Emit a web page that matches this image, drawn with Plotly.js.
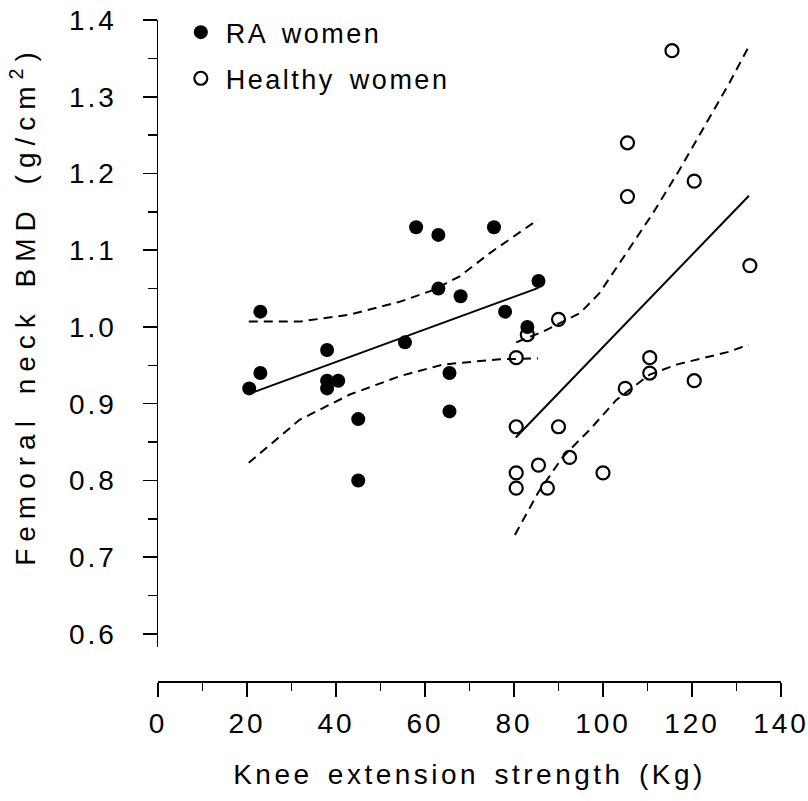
<!DOCTYPE html>
<html>
<head>
<meta charset="utf-8">
<script src="https://cdn.plot.ly/plotly-3.0.1.min.js"></script>
<style>
  html, body { margin: 0; padding: 0; background: #fff; }
  #chart { width: 808px; height: 801px; }
  .xtick text, .ytick text { letter-spacing: 3px; }
  .xtitle { letter-spacing: 3.5px; word-spacing: 4px; }
  .ytitle { letter-spacing: 7px; word-spacing: 5px; }
  #chart .ytitle { translate: 0 -28px; }
  .legendtext { letter-spacing: 2.5px; word-spacing: 5px; }
</style>
</head>
<body>
<div id="chart"></div>
<script>
// RA women (filled circles)
const raStrength = [20.5, 23, 23, 38, 38, 38, 40.5, 45, 45, 55.5, 58, 63, 63, 65.5, 65.5, 68, 75.5, 78, 83, 85.5];
const raBMD      = [0.92, 1.02, 0.94, 0.97, 0.93, 0.92, 0.93, 0.88, 0.80, 0.98, 1.13, 1.12, 1.05, 0.94, 0.89, 1.04, 1.13, 1.02, 1.00, 1.06];

// Healthy women (open circles)
const hwStrength = [80.5, 80.5, 80.5, 80.5, 83, 85.5, 87.5, 90, 90, 92.5, 100, 105.5, 105.5, 105, 110.5, 110.5, 115.5, 120.5, 120.5, 133];
const hwBMD      = [0.96, 0.87, 0.81, 0.79, 0.99, 0.82, 0.79, 1.01, 0.87, 0.83, 0.81, 1.24, 1.17, 0.92, 0.96, 0.94, 1.36, 1.19, 0.93, 1.08];

// Regression lines (end points)
const raFitX = [20.5, 85.5];
const raFitY = [0.913, 1.051];
const hwFitX = [80.4, 132.8];
const hwFitY = [0.856, 1.171];

// Confidence bands
const raUpX = [20.4, 31.8, 43.1, 54.4, 61.8, 67.8, 74.5, 85.4];
const raUpY = [1.007, 1.007, 1.016, 1.033, 1.048, 1.066, 1.096, 1.140];
const raLoX = [20.4, 31.8, 43.1, 54.4, 64.0, 76.8, 85.4];
const raLoY = [0.823, 0.879, 0.912, 0.936, 0.951, 0.958, 0.959];
const hwUpX = [80.5, 86.5, 94.8, 99.2, 101.5, 111.2, 117.2, 123.2, 128.4, 132.9];
const hwUpY = [0.980, 0.994, 1.018, 1.044, 1.064, 1.148, 1.205, 1.265, 1.318, 1.367];
const hwLoX = [80.2, 85.4, 91.0, 97.0, 103.0, 110.5, 116.5, 128.5, 132.7];
const hwLoY = [0.729, 0.784, 0.831, 0.866, 0.905, 0.938, 0.951, 0.968, 0.977];

const FONT = '"Liberation Sans", Arial, Helvetica, sans-serif';
const dashLine = {color: '#000', width: 2, dash: '9px,6px'};
const solidLine = {color: '#000', width: 2};

const traces = [
  {x: raUpX, y: raUpY, mode: 'lines', line: dashLine, showlegend: false, hoverinfo: 'skip'},
  {x: raLoX, y: raLoY, mode: 'lines', line: dashLine, showlegend: false, hoverinfo: 'skip'},
  {x: hwUpX, y: hwUpY, mode: 'lines', line: dashLine, showlegend: false, hoverinfo: 'skip'},
  {x: hwLoX, y: hwLoY, mode: 'lines', line: dashLine, showlegend: false, hoverinfo: 'skip'},
  {x: raFitX, y: raFitY, mode: 'lines', line: solidLine, showlegend: false, hoverinfo: 'skip'},
  {x: hwFitX, y: hwFitY, mode: 'lines', line: solidLine, showlegend: false, hoverinfo: 'skip'},
  {x: raStrength, y: raBMD, mode: 'markers', name: 'RA women', legendgroup: 'a',
   marker: {symbol: 'circle', size: 14, color: '#000', line: {width: 0}}},
  {x: hwStrength, y: hwBMD, mode: 'markers', name: 'Healthy women', legendgroup: 'b',
   marker: {symbol: 'circle-open', size: 13, color: '#000', line: {width: 2.2, color: '#000'}}}
];

const layout = {
  width: 808, height: 801,
  margin: {l: 158, r: 27, t: 20, b: 120, pad: 0, autoexpand: false},
  paper_bgcolor: '#fff', plot_bgcolor: '#fff',
  font: {family: FONT, size: 28, color: '#000'},
  showlegend: true,
  legend: {x: 0.0286, y: 1.018, xanchor: 'left', yanchor: 'top', bgcolor: 'rgba(0,0,0,0)',
           font: {family: FONT, size: 27, color: '#000'}, tracegroupgap: 8, traceorder: 'grouped', itemwidth: 40},
  xaxis: {
    range: [0, 140], anchor: 'free', position: 0,
    showgrid: false, zeroline: false, showline: true, linecolor: '#000', linewidth: 1.5,
    ticks: 'outside', ticklen: 14, tickwidth: 1.5, tickcolor: '#000', dtick: 20, tick0: 0,
    minor: {dtick: 10, ticks: 'outside', ticklen: 8, tickwidth: 1.5, tickcolor: '#000'},
    ticklabelstandoff: 3, ticklabeloverflow: 'allow',
    tickfont: {family: FONT, size: 28, color: '#000'},
    title: {text: 'Knee extension strength (Kg)', font: {family: FONT, size: 28, color: '#000'}, standoff: 26}
  },
  yaxis: {
    range: [0.583, 1.4], domain: [0.0514, 1],
    showgrid: false, zeroline: false, showline: true, linecolor: '#000', linewidth: 1.5,
    ticks: 'outside', ticklen: 14, tickwidth: 1.5, tickcolor: '#000', dtick: 0.1, tick0: 0.6, tickformat: '.1f',
    minor: {dtick: 0.05, ticks: 'outside', ticklen: 9, tickwidth: 1.5, tickcolor: '#000'},
    ticklabelstandoff: 20, ticklabeloverflow: 'allow',
    tickfont: {family: FONT, size: 28, color: '#000'},
    title: {text: 'Femoral neck BMD (g/cm<sup>2</sup>)', font: {family: FONT, size: 28, color: '#000'}, standoff: 25}
  }
};

Plotly.newPlot('chart', traces, layout, {displayModeBar: false, staticPlot: true});
</script>
</body>
</html>
